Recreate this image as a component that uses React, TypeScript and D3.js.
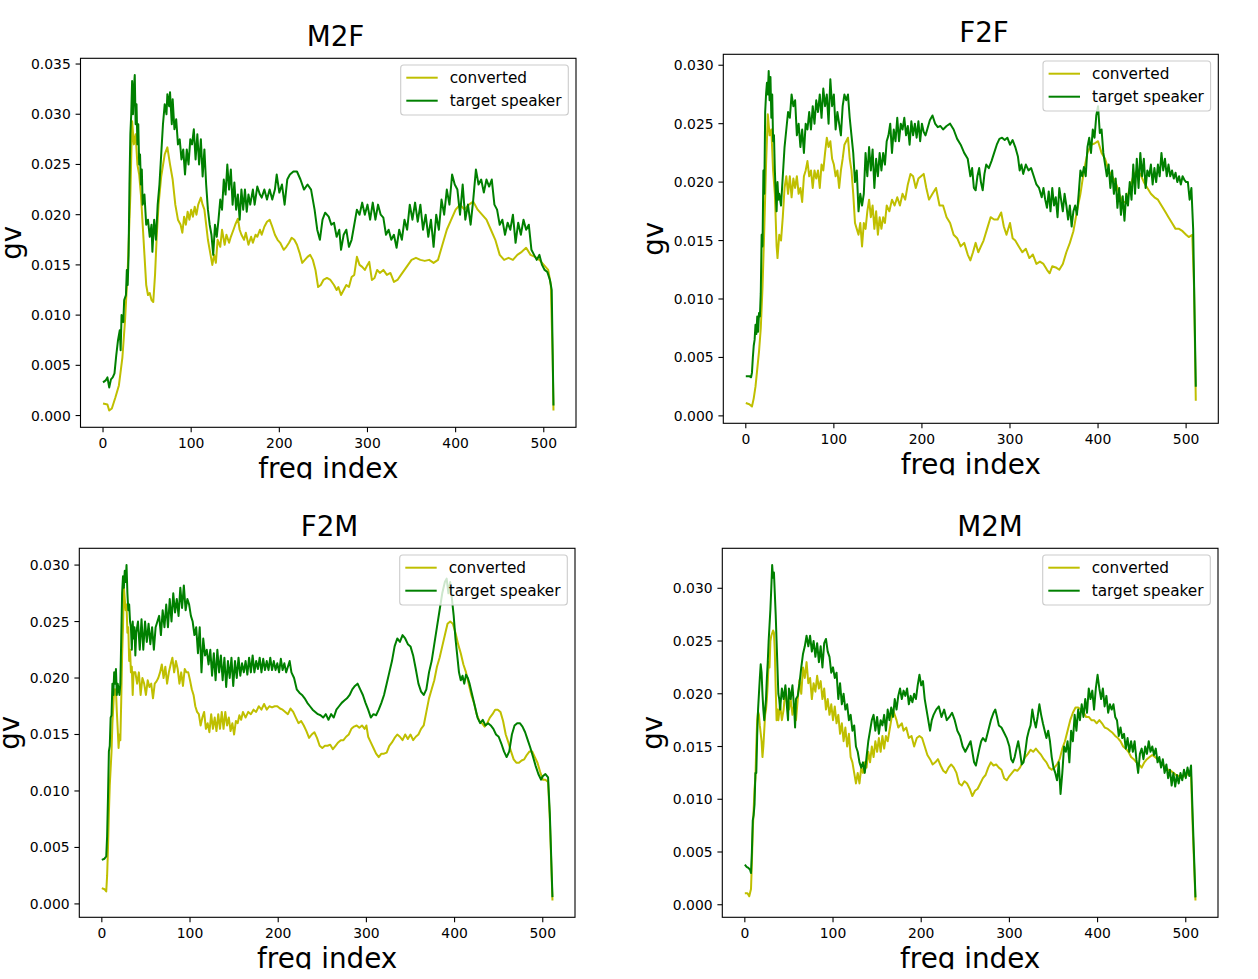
import React from "react";
import * as d3 from "d3";

type Pt = [number, number];

const X_TICKS = [0, 100, 200, 300, 400, 500];
const SERIES_LABELS = ["converted", "target speaker"];
const COLORS = ["#bfbf00", "#008000"];

const M2F_CONVERTED: Pt[] = [
  [0,0.0012],[5,0.0011],[7,0.0005],[10,0.0007],[14,0.0018],[18,0.003],[22,0.0058],[25,0.0095],[28,0.0145],[31,0.022],[33,0.0293],[35,0.027],[37,0.028],[39,0.025],[41,0.024],[43,0.022],[45,0.019],[47,0.016],[49,0.013],[51,0.012],[53,0.0122],[55,0.0115],[57,0.0113],[59,0.014],[61,0.018],[63,0.021],[66,0.0238],[70,0.026],[73,0.0267],[76,0.025],[79,0.0235],[82,0.021],[85,0.0195],[88,0.019],[90,0.0182],[92,0.0198],[94,0.019],[96,0.0203],[98,0.0195],[100,0.0205],[102,0.0198],[104,0.0208],[106,0.02],[108,0.021],[111,0.0217],[113,0.021],[115,0.0205],[117,0.019],[119,0.0175],[121,0.0165],[124,0.015],[126,0.016],[128,0.0152],[130,0.0175],[133,0.0168],[135,0.0185],[138,0.017],[140,0.018],[143,0.0172],[145,0.0178],[148,0.0185],[150,0.019],[153,0.0196],[155,0.0185],[157,0.018],[160,0.0175],[162,0.0182],[165,0.017],[168,0.0178],[170,0.0172],[173,0.018],[175,0.0178],[178,0.0185],[180,0.018],[183,0.0188],[186,0.0193],[189,0.0195],[192,0.0188],[195,0.018],[198,0.0175],[201,0.0172],[205,0.0165],[208,0.0168],[211,0.0172],[214,0.0177],[217,0.0175],[220,0.017],[223,0.0162],[226,0.0152],[229,0.0155],[232,0.0158],[235,0.016],[238,0.0155],[241,0.0145],[244,0.0128],[247,0.013],[250,0.0135],[254,0.0137],[258,0.0135],[262,0.013],[265,0.0125],[267,0.0128],[270,0.012],[273,0.0125],[276,0.013],[279,0.0128],[282,0.0138],[285,0.014],[288,0.0158],[291,0.015],[294,0.0148],[297,0.0145],[300,0.015],[302,0.0153],[305,0.0135],[308,0.0137],[311,0.0145],[314,0.0142],[318,0.0145],[322,0.014],[326,0.0142],[330,0.0133],[334,0.0135],[338,0.014],[342,0.0145],[346,0.015],[350,0.0155],[355,0.0157],[360,0.0155],[365,0.0154],[370,0.0155],[375,0.0152],[380,0.0155],[385,0.017],[390,0.0185],[395,0.0195],[400,0.0205],[405,0.021],[410,0.0205],[415,0.021],[420,0.0213],[425,0.0205],[430,0.02],[435,0.0195],[440,0.0185],[445,0.0175],[450,0.016],[455,0.0155],[460,0.0157],[465,0.0155],[470,0.016],[475,0.0163],[480,0.0167],[485,0.016],[490,0.0158],[495,0.0155],[500,0.015],[505,0.0145],[508,0.013],[510,0.006],[511,0.0005]
];

const M2F_TARGET: Pt[] = [
  [0,0.0033],[3,0.0035],[5,0.0038],[7,0.0028],[9,0.0036],[11,0.0038],[13,0.0042],[15,0.006],[17,0.0075],[19,0.0085],[20,0.0065],[21,0.01],[23,0.0093],[24,0.0115],[26,0.012],[27,0.0145],[28,0.013],[29,0.016],[30,0.023],[31,0.028],[32,0.03],[33,0.0333],[34,0.03],[35,0.0325],[36,0.0339],[37,0.029],[38,0.031],[39,0.027],[40,0.029],[41,0.025],[42,0.026],[43,0.023],[44,0.0245],[45,0.021],[47,0.022],[49,0.019],[51,0.0195],[53,0.0178],[55,0.019],[56,0.0163],[58,0.0195],[60,0.0175],[62,0.021],[64,0.023],[66,0.026],[68,0.029],[70,0.031],[72,0.03],[73,0.032],[75,0.0308],[76,0.0322],[78,0.029],[79,0.0315],[81,0.0285],[83,0.0295],[85,0.027],[87,0.0275],[89,0.0255],[91,0.0265],[93,0.024],[95,0.0265],[97,0.025],[99,0.0275],[101,0.027],[103,0.0285],[105,0.0255],[107,0.028],[109,0.025],[111,0.0275],[113,0.0238],[115,0.0265],[117,0.023],[119,0.0205],[121,0.019],[123,0.018],[125,0.016],[127,0.019],[129,0.0178],[131,0.0195],[133,0.0215],[135,0.0205],[137,0.0235],[139,0.022],[141,0.025],[143,0.0225],[145,0.0245],[147,0.021],[149,0.0232],[151,0.0205],[153,0.022],[155,0.0195],[157,0.0225],[159,0.0205],[161,0.0225],[163,0.0203],[165,0.022],[167,0.021],[170,0.0225],[172,0.021],[175,0.0228],[178,0.022],[180,0.0217],[183,0.0225],[186,0.0215],[189,0.0225],[192,0.0215],[195,0.0225],[197,0.024],[200,0.0222],[203,0.023],[206,0.021],[209,0.0235],[212,0.024],[216,0.0243],[220,0.0243],[224,0.0235],[228,0.0225],[232,0.023],[236,0.0225],[240,0.0205],[243,0.0185],[246,0.0175],[249,0.0195],[252,0.0202],[256,0.0198],[259,0.019],[262,0.0192],[265,0.0178],[268,0.0185],[270,0.0165],[273,0.018],[276,0.0185],[279,0.0168],[282,0.0175],[285,0.019],[288,0.0205],[291,0.02],[294,0.0212],[297,0.02],[300,0.021],[303,0.0195],[306,0.0212],[309,0.0195],[312,0.021],[315,0.02],[318,0.0197],[321,0.018],[324,0.0185],[327,0.0175],[330,0.018],[333,0.0167],[336,0.0185],[339,0.0175],[342,0.0195],[345,0.0185],[348,0.021],[351,0.0195],[354,0.0212],[357,0.0193],[360,0.021],[363,0.0185],[366,0.02],[369,0.0178],[372,0.0195],[375,0.0168],[378,0.02],[381,0.0185],[384,0.0215],[387,0.02],[390,0.0225],[393,0.021],[396,0.024],[399,0.023],[402,0.0225],[405,0.02],[408,0.023],[411,0.0195],[414,0.021],[417,0.019],[420,0.0215],[423,0.0245],[426,0.023],[429,0.0235],[432,0.0222],[435,0.0235],[438,0.0228],[441,0.0235],[444,0.021],[447,0.0205],[450,0.019],[453,0.0195],[456,0.018],[459,0.0192],[462,0.0185],[465,0.02],[468,0.0172],[471,0.0192],[474,0.018],[477,0.0195],[480,0.0185],[483,0.019],[486,0.0165],[489,0.016],[492,0.0155],[495,0.016],[498,0.015],[501,0.0145],[504,0.0143],[507,0.0135],[509,0.0125],[511,0.001]
];

const F2F_CONVERTED: Pt[] = [
  [0,0.0011],[4,0.001],[7,0.0008],[9,0.0015],[11,0.0025],[13,0.004],[15,0.0055],[17,0.0075],[19,0.011],[21,0.016],[23,0.0215],[25,0.0258],[27,0.024],[29,0.0245],[31,0.021],[33,0.019],[35,0.0145],[36,0.0135],[38,0.0155],[40,0.015],[42,0.017],[44,0.0195],[46,0.0205],[48,0.019],[50,0.0205],[52,0.0187],[54,0.0203],[56,0.0195],[58,0.0205],[60,0.019],[62,0.0195],[64,0.0183],[66,0.0205],[68,0.021],[70,0.0218],[72,0.0205],[74,0.021],[76,0.0195],[78,0.021],[80,0.0203],[82,0.021],[84,0.0195],[86,0.0215],[88,0.021],[90,0.0225],[92,0.0238],[94,0.023],[96,0.0235],[98,0.022],[100,0.0215],[102,0.0205],[104,0.021],[106,0.0195],[108,0.021],[110,0.022],[112,0.0232],[114,0.0235],[116,0.0238],[118,0.022],[120,0.021],[122,0.019],[124,0.0165],[126,0.016],[128,0.0155],[130,0.0165],[132,0.0145],[134,0.0165],[136,0.016],[138,0.0175],[140,0.0185],[142,0.017],[144,0.018],[146,0.016],[148,0.0175],[150,0.0155],[152,0.017],[154,0.016],[156,0.017],[158,0.0165],[160,0.018],[163,0.0175],[166,0.0185],[169,0.018],[172,0.0187],[175,0.018],[178,0.019],[181,0.0185],[184,0.0198],[187,0.0207],[190,0.0205],[193,0.0195],[196,0.0203],[199,0.0205],[202,0.0207],[205,0.0195],[208,0.0185],[212,0.019],[216,0.0195],[220,0.018],[224,0.018],[228,0.017],[232,0.0165],[236,0.0155],[240,0.0152],[244,0.0145],[248,0.0148],[252,0.0138],[255,0.0133],[258,0.014],[261,0.0148],[264,0.014],[267,0.0145],[270,0.015],[274,0.016],[278,0.017],[282,0.0168],[286,0.0168],[290,0.0174],[293,0.0162],[296,0.0155],[300,0.0165],[303,0.0152],[306,0.015],[310,0.0145],[314,0.014],[318,0.0143],[322,0.0135],[326,0.0138],[330,0.013],[334,0.0132],[338,0.013],[342,0.0125],[345,0.0122],[348,0.0128],[352,0.0127],[356,0.0125],[360,0.013],[364,0.014],[368,0.0148],[372,0.0158],[376,0.0175],[380,0.019],[384,0.021],[388,0.0225],[392,0.0232],[396,0.0233],[400,0.0235],[404,0.0225],[408,0.022],[412,0.021],[416,0.0205],[420,0.02],[424,0.019],[428,0.0183],[432,0.0183],[436,0.0195],[440,0.0205],[444,0.021],[448,0.0207],[452,0.02],[456,0.0195],[460,0.019],[464,0.0187],[468,0.0185],[472,0.018],[476,0.0175],[480,0.017],[484,0.0165],[488,0.016],[492,0.016],[496,0.0158],[500,0.0155],[503,0.0153],[507,0.0155],[509,0.011],[511,0.0013]
];

const F2F_TARGET: Pt[] = [
  [0,0.0034],[4,0.0034],[6,0.0033],[7,0.0037],[8,0.005],[9,0.006],[10,0.0065],[11,0.0078],[12,0.007],[13,0.0085],[14,0.0072],[15,0.0088],[16,0.0085],[17,0.0105],[18,0.0155],[19,0.0145],[20,0.021],[21,0.019],[22,0.026],[23,0.0275],[24,0.0285],[25,0.0275],[26,0.0295],[27,0.027],[28,0.029],[29,0.0255],[30,0.0275],[31,0.0235],[32,0.024],[33,0.021],[34,0.019],[35,0.0175],[36,0.02],[37,0.0185],[38,0.019],[40,0.018],[42,0.0205],[44,0.023],[46,0.0245],[48,0.026],[50,0.0255],[52,0.0275],[54,0.0265],[56,0.027],[58,0.024],[60,0.025],[62,0.023],[64,0.0245],[66,0.0225],[68,0.025],[70,0.0245],[72,0.026],[74,0.0245],[76,0.0265],[78,0.025],[80,0.027],[82,0.026],[84,0.0275],[86,0.0255],[88,0.028],[90,0.0265],[92,0.0275],[94,0.025],[96,0.0288],[98,0.0265],[100,0.0275],[102,0.0245],[104,0.026],[106,0.025],[108,0.024],[110,0.0265],[112,0.0275],[114,0.027],[116,0.0275],[118,0.0255],[120,0.024],[122,0.0225],[124,0.02],[126,0.021],[128,0.0175],[130,0.019],[132,0.018],[134,0.019],[136,0.0225],[138,0.0205],[140,0.023],[142,0.021],[144,0.0228],[146,0.0195],[148,0.022],[150,0.0205],[152,0.0225],[154,0.021],[156,0.0225],[158,0.0215],[160,0.0235],[162,0.024],[164,0.025],[166,0.0225],[168,0.0245],[170,0.0235],[172,0.0255],[174,0.0235],[176,0.025],[178,0.0245],[180,0.0255],[182,0.024],[184,0.0248],[186,0.0232],[188,0.0252],[190,0.024],[192,0.025],[194,0.0238],[196,0.0252],[198,0.0235],[200,0.025],[202,0.0243],[204,0.024],[206,0.0245],[209,0.0253],[212,0.0257],[215,0.025],[218,0.0247],[221,0.0248],[224,0.0245],[228,0.0248],[232,0.025],[236,0.0245],[240,0.0237],[244,0.0232],[248,0.0225],[252,0.022],[255,0.0205],[257,0.0212],[259,0.0195],[261,0.0193],[263,0.0205],[265,0.0212],[267,0.02],[269,0.0193],[271,0.0207],[273,0.0215],[276,0.0212],[279,0.0218],[282,0.0225],[285,0.0232],[288,0.0237],[291,0.0238],[294,0.0236],[297,0.0238],[300,0.0232],[303,0.0236],[306,0.023],[309,0.0222],[311,0.021],[313,0.0215],[315,0.0207],[318,0.0215],[321,0.021],[324,0.0212],[327,0.0205],[330,0.0198],[333,0.0195],[336,0.0187],[338,0.0195],[340,0.0185],[342,0.0178],[344,0.0192],[346,0.0175],[348,0.0195],[350,0.018],[352,0.0187],[354,0.017],[356,0.0195],[358,0.0185],[360,0.0175],[362,0.019],[364,0.018],[366,0.0168],[368,0.018],[370,0.0162],[372,0.0175],[374,0.018],[376,0.0172],[378,0.019],[380,0.021],[382,0.0205],[384,0.0213],[386,0.0205],[388,0.023],[390,0.0238],[392,0.0225],[394,0.0245],[396,0.0238],[398,0.0257],[400,0.0265],[402,0.0242],[404,0.0245],[406,0.0225],[408,0.0215],[410,0.0205],[412,0.0215],[414,0.0195],[416,0.021],[418,0.019],[420,0.0203],[422,0.0178],[424,0.0195],[426,0.0172],[428,0.0188],[430,0.0167],[432,0.019],[434,0.018],[436,0.02],[438,0.0185],[440,0.0215],[442,0.019],[444,0.022],[446,0.0195],[448,0.0225],[450,0.0205],[452,0.022],[454,0.0195],[456,0.021],[458,0.0205],[460,0.0215],[462,0.0198],[464,0.0212],[466,0.02],[468,0.0215],[470,0.0205],[472,0.0225],[474,0.021],[476,0.022],[478,0.0205],[480,0.0215],[482,0.0205],[484,0.021],[486,0.0203],[488,0.0208],[490,0.02],[492,0.0205],[494,0.0198],[496,0.0205],[498,0.0202],[500,0.02],[502,0.02],[504,0.0185],[506,0.0195],[508,0.016],[511,0.0025]
];

const F2M_CONVERTED: Pt[] = [
  [0,0.0014],[3,0.0013],[5,0.0011],[6,0.0025],[7,0.005],[8,0.008],[9,0.0105],[10,0.012],[11,0.0135],[12,0.016],[14,0.019],[15,0.0185],[16,0.019],[17,0.017],[18,0.0155],[19,0.0138],[20,0.015],[21,0.0145],[22,0.018],[23,0.022],[24,0.0245],[25,0.028],[26,0.027],[27,0.026],[28,0.0265],[29,0.024],[30,0.0245],[31,0.0215],[32,0.0225],[33,0.0205],[34,0.021],[35,0.0185],[36,0.0205],[38,0.0205],[40,0.0195],[42,0.0205],[44,0.0185],[46,0.02],[48,0.0195],[50,0.0185],[52,0.0198],[54,0.0192],[56,0.0195],[58,0.0182],[60,0.0195],[62,0.0197],[64,0.02],[66,0.0205],[68,0.0212],[70,0.02],[72,0.021],[74,0.0195],[76,0.0205],[78,0.0212],[80,0.0218],[82,0.0205],[84,0.0215],[86,0.0208],[88,0.0195],[90,0.0205],[92,0.0193],[94,0.0208],[96,0.0205],[98,0.0205],[100,0.0198],[102,0.019],[104,0.0185],[106,0.0175],[108,0.017],[110,0.0168],[112,0.0158],[114,0.0165],[116,0.017],[118,0.0155],[120,0.016],[122,0.0152],[124,0.0168],[126,0.0155],[128,0.0165],[130,0.0153],[132,0.0168],[134,0.0155],[136,0.017],[138,0.0155],[140,0.017],[142,0.0158],[144,0.0165],[146,0.0153],[148,0.016],[150,0.015],[152,0.0162],[154,0.016],[156,0.0167],[158,0.0163],[160,0.017],[163,0.0165],[166,0.017],[169,0.0168],[172,0.0172],[175,0.017],[178,0.0175],[181,0.0172],[184,0.0177],[187,0.0172],[190,0.0175],[193,0.0174],[196,0.0175],[199,0.0175],[202,0.0173],[205,0.0172],[208,0.017],[211,0.0168],[214,0.0173],[217,0.017],[220,0.0165],[223,0.016],[226,0.0162],[229,0.0158],[232,0.0153],[235,0.0147],[238,0.015],[241,0.0152],[244,0.0147],[247,0.014],[250,0.0138],[253,0.014],[256,0.014],[259,0.0141],[262,0.0137],[265,0.014],[268,0.0143],[271,0.0145],[274,0.0145],[277,0.0148],[280,0.015],[283,0.0155],[286,0.0157],[289,0.0158],[292,0.0156],[295,0.0158],[298,0.0155],[300,0.0158],[302,0.0148],[305,0.0143],[308,0.0138],[311,0.0133],[314,0.013],[317,0.0133],[320,0.0133],[323,0.0134],[326,0.014],[329,0.0143],[332,0.0147],[335,0.015],[338,0.0148],[341,0.0145],[344,0.015],[347,0.0146],[350,0.015],[353,0.0145],[356,0.0148],[359,0.015],[362,0.0155],[365,0.0158],[368,0.017],[371,0.0182],[374,0.019],[377,0.0198],[380,0.021],[383,0.0218],[386,0.0228],[389,0.0238],[392,0.0248],[395,0.025],[398,0.0248],[401,0.024],[404,0.023],[407,0.0222],[410,0.0212],[413,0.0205],[416,0.0195],[419,0.0185],[422,0.0178],[425,0.0168],[428,0.0162],[431,0.016],[434,0.0157],[437,0.016],[440,0.0165],[443,0.0168],[446,0.0172],[449,0.0172],[452,0.017],[455,0.0162],[458,0.015],[461,0.0143],[464,0.0135],[467,0.0128],[470,0.0125],[473,0.0125],[476,0.0127],[479,0.0128],[482,0.0132],[485,0.0135],[488,0.0135],[491,0.013],[494,0.0125],[497,0.0117],[500,0.011],[503,0.011],[506,0.0108],[508,0.0075],[511,0.0003]
];

const F2M_TARGET: Pt[] = [
  [0,0.0039],[3,0.004],[5,0.0042],[6,0.006],[7,0.0095],[8,0.0135],[9,0.014],[10,0.0165],[11,0.0167],[12,0.0195],[13,0.0185],[14,0.0205],[15,0.0195],[16,0.0208],[17,0.0185],[18,0.0195],[19,0.019],[20,0.0185],[21,0.0195],[22,0.0235],[23,0.0275],[24,0.029],[25,0.028],[26,0.0295],[27,0.0285],[28,0.03],[29,0.0275],[30,0.026],[31,0.0265],[32,0.025],[33,0.0245],[34,0.0225],[35,0.025],[36,0.0235],[37,0.0245],[38,0.022],[39,0.024],[41,0.025],[43,0.0225],[45,0.0252],[47,0.0225],[49,0.025],[51,0.0232],[53,0.0248],[55,0.023],[57,0.0245],[59,0.0225],[61,0.0245],[63,0.025],[65,0.0255],[67,0.0238],[69,0.026],[71,0.0245],[73,0.0265],[75,0.0245],[77,0.027],[79,0.025],[81,0.0275],[83,0.0258],[85,0.027],[87,0.0255],[89,0.028],[91,0.0262],[93,0.0282],[95,0.026],[97,0.027],[99,0.0265],[101,0.0255],[103,0.025],[105,0.0238],[107,0.0245],[109,0.0222],[111,0.0245],[113,0.0205],[115,0.0235],[117,0.022],[119,0.0225],[121,0.0212],[123,0.0225],[125,0.0202],[127,0.0222],[129,0.0198],[131,0.0225],[133,0.0205],[135,0.022],[137,0.0198],[139,0.0218],[141,0.0192],[143,0.0215],[145,0.02],[147,0.0218],[149,0.0193],[151,0.0215],[153,0.02],[155,0.0218],[157,0.0202],[159,0.0213],[161,0.0205],[163,0.0215],[165,0.0203],[167,0.0218],[169,0.0205],[171,0.022],[173,0.0205],[175,0.0215],[177,0.0208],[179,0.0218],[181,0.0205],[183,0.0217],[185,0.0207],[187,0.0215],[189,0.0207],[191,0.0218],[193,0.0207],[195,0.0215],[197,0.0207],[199,0.0213],[201,0.0205],[203,0.0217],[205,0.0207],[207,0.0213],[209,0.0205],[211,0.021],[213,0.0215],[215,0.0205],[218,0.02],[221,0.019],[224,0.0187],[227,0.0185],[230,0.0182],[233,0.0178],[236,0.0175],[239,0.0172],[242,0.017],[245,0.0168],[248,0.0167],[251,0.0165],[254,0.0168],[257,0.0163],[260,0.0168],[263,0.0165],[266,0.0172],[269,0.0175],[272,0.0178],[275,0.018],[278,0.0182],[281,0.0185],[284,0.019],[287,0.0193],[290,0.0195],[293,0.019],[296,0.0185],[299,0.0178],[302,0.0172],[305,0.0165],[308,0.0168],[311,0.0167],[314,0.0172],[317,0.0178],[320,0.0185],[323,0.0195],[326,0.0205],[329,0.0215],[332,0.0228],[335,0.0235],[338,0.0232],[341,0.0238],[344,0.0235],[347,0.023],[350,0.0228],[353,0.022],[356,0.0208],[359,0.0195],[362,0.0188],[365,0.0185],[368,0.019],[371,0.0205],[374,0.0215],[377,0.023],[380,0.0245],[383,0.026],[386,0.0275],[389,0.0285],[391,0.0288],[393,0.0275],[395,0.0285],[397,0.027],[399,0.0255],[401,0.0235],[403,0.022],[405,0.0205],[407,0.0198],[409,0.0202],[411,0.0195],[413,0.0203],[415,0.02],[417,0.0195],[420,0.0185],[423,0.0175],[426,0.0165],[429,0.016],[432,0.0163],[435,0.0158],[438,0.016],[441,0.0158],[444,0.0155],[447,0.015],[450,0.0148],[453,0.0142],[456,0.0135],[459,0.013],[462,0.0135],[465,0.015],[468,0.0158],[471,0.016],[474,0.016],[477,0.0157],[480,0.0152],[483,0.0145],[486,0.0138],[489,0.013],[492,0.0122],[495,0.0115],[498,0.011],[500,0.0113],[503,0.0115],[506,0.0112],[508,0.008],[511,0.0006]
];

const M2M_CONVERTED: Pt[] = [
  [0,0.0011],[3,0.0011],[5,0.0008],[7,0.0015],[8,0.004],[9,0.007],[10,0.009],[11,0.011],[12,0.012],[13,0.015],[14,0.0175],[15,0.0183],[16,0.018],[17,0.017],[19,0.0155],[20,0.014],[21,0.015],[22,0.0165],[23,0.018],[24,0.0185],[25,0.0195],[26,0.021],[27,0.023],[28,0.0225],[29,0.025],[30,0.0255],[32,0.026],[33,0.0258],[34,0.024],[35,0.0205],[36,0.0175],[37,0.0185],[38,0.0175],[40,0.019],[42,0.0175],[44,0.0185],[46,0.0205],[48,0.019],[50,0.0185],[52,0.0195],[54,0.018],[56,0.019],[58,0.0175],[60,0.0195],[62,0.0213],[64,0.02],[66,0.0225],[68,0.0215],[70,0.023],[72,0.021],[74,0.0215],[76,0.0195],[78,0.021],[80,0.0202],[82,0.0217],[84,0.0205],[86,0.0212],[88,0.0195],[90,0.0205],[92,0.0185],[94,0.0195],[96,0.018],[98,0.019],[100,0.0175],[102,0.0188],[104,0.0172],[106,0.018],[108,0.0162],[110,0.0172],[112,0.0155],[114,0.0168],[116,0.015],[118,0.0162],[120,0.014],[122,0.0135],[124,0.0125],[126,0.0115],[128,0.0125],[130,0.0115],[132,0.013],[134,0.0125],[136,0.0135],[138,0.013],[140,0.0145],[142,0.0135],[144,0.015],[146,0.014],[148,0.0155],[150,0.0145],[152,0.0158],[154,0.0145],[156,0.016],[158,0.0148],[160,0.016],[162,0.0155],[164,0.0165],[166,0.0175],[168,0.0185],[170,0.018],[172,0.0175],[174,0.0168],[176,0.017],[178,0.0172],[180,0.0165],[183,0.0168],[186,0.0158],[189,0.016],[192,0.015],[195,0.0158],[198,0.016],[201,0.0158],[204,0.015],[207,0.0142],[210,0.0138],[213,0.0133],[216,0.0135],[219,0.0138],[222,0.0132],[225,0.0127],[228,0.0125],[231,0.013],[234,0.0133],[237,0.013],[240,0.0125],[243,0.0115],[246,0.0113],[249,0.0117],[252,0.0115],[255,0.011],[258,0.0103],[261,0.0108],[264,0.011],[267,0.0115],[270,0.012],[273,0.0123],[276,0.013],[279,0.0135],[282,0.0132],[285,0.0133],[288,0.013],[291,0.0128],[294,0.012],[297,0.0118],[300,0.0122],[303,0.0125],[306,0.0128],[309,0.0127],[312,0.013],[315,0.0135],[318,0.014],[321,0.0143],[324,0.0147],[327,0.0145],[330,0.0148],[333,0.0145],[336,0.0142],[339,0.0138],[342,0.0135],[345,0.013],[348,0.0128],[351,0.013],[354,0.0133],[357,0.0138],[360,0.0148],[363,0.0155],[366,0.0165],[369,0.0175],[372,0.0182],[375,0.0187],[378,0.0187],[381,0.0185],[384,0.0183],[387,0.0178],[390,0.0178],[393,0.0175],[396,0.0175],[399,0.0172],[402,0.0175],[405,0.0172],[408,0.0168],[411,0.0167],[414,0.0165],[417,0.0163],[420,0.016],[423,0.0158],[426,0.0155],[429,0.015],[432,0.0148],[435,0.0145],[438,0.014],[441,0.0138],[444,0.0135],[447,0.0133],[450,0.013],[453,0.0135],[456,0.0138],[459,0.014],[462,0.0142],[465,0.014],[468,0.0138],[471,0.0135],[474,0.0133],[477,0.013],[480,0.0128],[483,0.0127],[486,0.0125],[489,0.0123],[492,0.0122],[495,0.012],[498,0.0122],[501,0.0123],[504,0.0125],[506,0.0122],[508,0.007],[511,0.0004]
];

const M2M_TARGET: Pt[] = [
  [0,0.0038],[2,0.0036],[4,0.0035],[6,0.0033],[7,0.003],[8,0.005],[9,0.008],[10,0.0085],[11,0.0095],[12,0.0125],[13,0.0125],[14,0.016],[15,0.0185],[16,0.02],[17,0.0215],[18,0.0228],[19,0.022],[20,0.02],[21,0.0185],[22,0.0175],[23,0.0185],[24,0.0195],[25,0.0215],[26,0.023],[27,0.025],[28,0.0265],[29,0.028],[30,0.03],[31,0.0322],[32,0.031],[33,0.0315],[34,0.0295],[35,0.0275],[36,0.025],[37,0.0225],[38,0.02],[39,0.0195],[40,0.0185],[42,0.0205],[44,0.0195],[46,0.0208],[48,0.0185],[49,0.0175],[50,0.0205],[52,0.0195],[54,0.0208],[56,0.0185],[57,0.0168],[58,0.0195],[60,0.0198],[62,0.021],[64,0.0225],[66,0.0238],[68,0.0245],[70,0.0255],[72,0.0245],[74,0.0255],[76,0.024],[78,0.025],[80,0.0235],[82,0.0248],[84,0.023],[86,0.0245],[88,0.0225],[90,0.0248],[92,0.0252],[94,0.024],[96,0.0235],[98,0.022],[100,0.0225],[102,0.0215],[104,0.022],[106,0.0195],[108,0.021],[110,0.019],[112,0.02],[114,0.0185],[116,0.019],[118,0.0175],[120,0.018],[122,0.0165],[124,0.017],[126,0.015],[128,0.0145],[130,0.0135],[132,0.013],[134,0.0135],[136,0.0125],[138,0.014],[140,0.0155],[142,0.0165],[144,0.0175],[146,0.018],[148,0.0165],[150,0.0178],[152,0.0162],[154,0.0175],[156,0.017],[158,0.018],[160,0.0165],[162,0.0185],[164,0.0175],[166,0.0187],[168,0.0178],[170,0.0195],[172,0.0185],[174,0.0198],[176,0.0205],[178,0.0195],[180,0.0203],[182,0.0198],[184,0.0205],[186,0.019],[188,0.0198],[190,0.0192],[192,0.02],[194,0.0195],[196,0.0208],[198,0.0218],[200,0.0208],[202,0.0212],[204,0.0195],[206,0.0185],[208,0.0175],[210,0.0165],[212,0.0175],[214,0.018],[217,0.0185],[220,0.0188],[223,0.0178],[226,0.0185],[229,0.0175],[232,0.0178],[235,0.0182],[238,0.0175],[241,0.0165],[244,0.016],[247,0.015],[250,0.0145],[253,0.015],[256,0.0155],[258,0.0145],[260,0.0135],[262,0.0132],[264,0.014],[266,0.0148],[268,0.0155],[270,0.0158],[273,0.0155],[276,0.0165],[279,0.0175],[282,0.0182],[284,0.0185],[286,0.0178],[288,0.017],[291,0.0168],[294,0.0163],[297,0.0158],[300,0.015],[302,0.0138],[304,0.0135],[306,0.014],[308,0.0148],[310,0.0155],[312,0.0145],[314,0.0133],[316,0.0135],[318,0.0145],[320,0.0158],[322,0.0165],[324,0.017],[326,0.0185],[328,0.0175],[330,0.0168],[332,0.0178],[334,0.019],[336,0.018],[338,0.0172],[340,0.0165],[342,0.0158],[344,0.0165],[346,0.0155],[348,0.014],[350,0.013],[352,0.0125],[354,0.0118],[355,0.0125],[356,0.0135],[358,0.0105],[360,0.0125],[362,0.015],[364,0.0145],[366,0.0155],[368,0.0135],[370,0.0165],[372,0.0155],[374,0.018],[376,0.0165],[378,0.0185],[380,0.0175],[382,0.019],[384,0.0178],[386,0.0195],[388,0.0182],[390,0.0205],[392,0.0195],[394,0.0203],[396,0.0185],[398,0.0205],[400,0.0218],[402,0.0205],[404,0.0195],[406,0.0205],[408,0.0188],[410,0.0198],[412,0.0182],[414,0.019],[416,0.0185],[418,0.019],[420,0.0178],[422,0.0175],[424,0.016],[426,0.0168],[428,0.0158],[430,0.0162],[432,0.0148],[434,0.0158],[436,0.0145],[438,0.0155],[440,0.0145],[442,0.0155],[444,0.0138],[446,0.0125],[448,0.0143],[450,0.0148],[452,0.0138],[454,0.015],[456,0.0143],[458,0.0155],[460,0.0145],[462,0.015],[464,0.0142],[466,0.0148],[468,0.0135],[470,0.014],[472,0.013],[474,0.0138],[476,0.0125],[478,0.0133],[480,0.012],[482,0.0128],[484,0.0113],[486,0.0125],[488,0.0112],[490,0.0123],[492,0.0115],[494,0.0125],[496,0.0118],[498,0.0128],[500,0.012],[502,0.013],[504,0.0122],[506,0.0132],[508,0.008],[511,0.0007]
];

const FONT = "'DejaVu Sans', sans-serif";

interface PanelSpec {
  id: string;
  title: string;
  titleX: number;
  x: number;
  y: number;
  w: number;
  h: number;
  series: Pt[][];
}

const PANELS: PanelSpec[] = [
  { id: "m2f", title: "M2F", titleX: 335.5, x: 80.5, y: 58.3, w: 495.5, h: 369, series: [M2F_CONVERTED, M2F_TARGET] },
  { id: "f2f", title: "F2F", titleX: 984, x: 723.3, y: 54.3, w: 495, h: 369, series: [F2F_CONVERTED, F2F_TARGET] },
  { id: "f2m", title: "F2M", titleX: 329.5, x: 79.3, y: 548.3, w: 495.7, h: 369, series: [F2M_CONVERTED, F2M_TARGET] },
  { id: "m2m", title: "M2M", titleX: 990, x: 722.3, y: 548.3, w: 495.7, h: 369, series: [M2M_CONVERTED, M2M_TARGET] },
];

function Panel({ p }: { p: PanelSpec }) {
  const allX = p.series.flat().map((d) => d[0]);
  const allY = p.series.flat().map((d) => d[1]);
  const [x0, x1] = d3.extent(allX) as [number, number];
  const [y0, y1] = d3.extent(allY) as [number, number];
  const mxv = (x1 - x0) * 0.05;
  const myv = (y1 - y0) * 0.05;
  const x = d3.scaleLinear().domain([x0 - mxv, x1 + mxv]).range([p.x, p.x + p.w]);
  const y = d3.scaleLinear().domain([y0 - myv, y1 + myv]).range([p.y + p.h, p.y]);
  const line = d3.line<Pt>().x((d) => x(d[0])).y((d) => y(d[1]));
  const yTicks = d3.range(0, 0.05, 0.005).filter((t) => t >= y0 - myv && t <= y1 + myv + 1e-9);
  const bottom = p.y + p.h;
  const right = p.x + p.w;
  const lgW = 167.6, lgH = 50;
  const lgX = right - 7.7 - lgW;
  const lgY = p.y + 6.7;
  const rows = [lgY + 12.7, lgY + 35.7];

  return (
    <g>
      <defs>
        <clipPath id={`clip-${p.id}`}>
          <rect x={p.x - 100} y={bottom} width={p.w + 200} height={52} />
        </clipPath>
      </defs>
      {p.series.map((s, i) => (
        <path key={i} d={line(s) || ""} fill="none" stroke={COLORS[i]} strokeWidth={2} strokeLinejoin="round" />
      ))}
      <rect x={p.x} y={p.y} width={p.w} height={p.h} fill="none" stroke="#000" strokeWidth={1.1} />
      {yTicks.map((t) => (
        <g key={t}>
          <line x1={p.x - 4.9} x2={p.x} y1={y(t)} y2={y(t)} stroke="#000" strokeWidth={1.1} />
          <text x={p.x - 9.7} y={y(t) + 5} textAnchor="end" fontSize={13.9} fontFamily={FONT} fill="#000">
            {t.toFixed(3)}
          </text>
        </g>
      ))}
      {X_TICKS.map((t) => (
        <g key={t}>
          <line x1={x(t)} x2={x(t)} y1={bottom} y2={bottom + 4.9} stroke="#000" strokeWidth={1.1} />
          <text x={x(t)} y={bottom + 20.4} textAnchor="middle" fontSize={13.9} fontFamily={FONT} fill="#000">
            {t}
          </text>
        </g>
      ))}
      <text x={p.titleX} y={p.y - 12.6} textAnchor="middle" fontSize={27.8} fontFamily={FONT} fill="#000">
        {p.title}
      </text>
      <g clipPath={`url(#clip-${p.id})`}>
        <text x={p.x + p.w / 2} y={bottom + 50.5} textAnchor="middle" fontSize={27.8} fontFamily={FONT} fill="#000">
          freq index
        </text>
      </g>
      <text
        transform={`translate(${p.x - 60},${p.y + p.h / 2}) rotate(-90)`}
        textAnchor="middle"
        fontSize={27.8}
        fontFamily={FONT}
        fill="#000"
      >
        gv
      </text>
      <rect x={lgX} y={lgY} width={lgW} height={lgH} rx={3} fill="#fff" fillOpacity={0.8} stroke="#cccccc" strokeWidth={1.1} />
      {SERIES_LABELS.map((lab, i) => (
        <g key={lab}>
          <line x1={lgX + 5.6} x2={lgX + 37} y1={rows[i]} y2={rows[i]} stroke={COLORS[i]} strokeWidth={2} />
          <text x={lgX + 49} y={rows[i] + 5.3} fontSize={15.3} fontFamily={FONT} fill="#000">
            {lab}
          </text>
        </g>
      ))}
    </g>
  );
}

export default function App() {
  return (
    <svg
      width={1258}
      height={979}
      viewBox="0 0 1258 979"
      style={{ position: "absolute", left: 0, top: 0, background: "#fff" }}
    >
      <rect x={0} y={0} width={1258} height={979} fill="#fff" />
      {PANELS.map((p) => (
        <Panel key={p.id} p={p} />
      ))}
    </svg>
  );
}
